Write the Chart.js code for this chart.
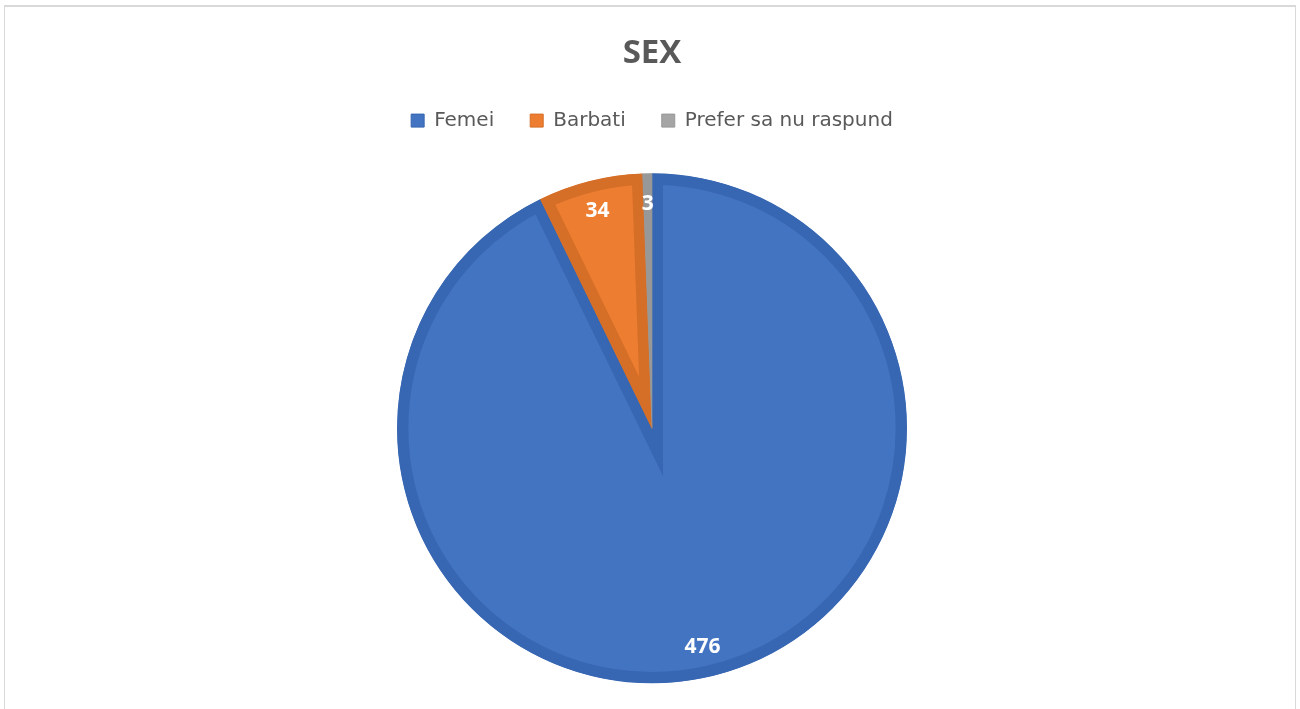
<!DOCTYPE html>
<html>
<head>
<meta charset="utf-8">
<script src="https://cdn.jsdelivr.net/npm/chart.js@4.4.1/dist/chart.umd.min.js"></script>
<style>
  html, body { margin: 0; padding: 0; background: #ffffff; }
  #wrap { position: relative; width: 1300px; height: 709px; overflow: hidden; }
  #frame { position: absolute; left: 4px; top: 5px; width: 1292px; height: 740px; border: 1px solid #d9d9d9; border-top-width: 2px; box-sizing: border-box; pointer-events: none; }
  canvas { position: absolute; left: 0; top: 0; }
</style>
</head>
<body>
<div id="wrap">
  <canvas id="c" width="1300" height="735"></canvas>
  <div id="frame"></div>
</div>
<script>
const titleText = "SEX";
const categories = ["Femei", "Barbati", "Prefer sa nu raspund"];
const values = [476, 34, 3];
const fillColors = ["#4374C1", "#ED7D31", "#A5A5A5"];
const borderColors = ["#3766B2", "#D56F27", "#989898"];

const valueLabels = {
  id: 'valueLabels',
  afterDatasetsDraw(chart) {
    const ctx = chart.ctx;
    const meta = chart.getDatasetMeta(0);
    ctx.save();
    ctx.fillStyle = '#ffffff';
    ctx.font = 'bold 21px "Open Sans"';
    ctx.textAlign = 'center';
    ctx.textBaseline = 'middle';
    meta.data.forEach((arc, i) => {
      const p = arc.getProps(['x', 'y', 'startAngle', 'endAngle', 'outerRadius'], true);
      const mid = (p.startAngle + p.endAngle) / 2;
      const r = p.outerRadius * 0.88;
      ctx.fillText(String(values[i]), p.x + Math.cos(mid) * r, p.y + Math.sin(mid) * r);
    });
    ctx.restore();
  }
};

new Chart(document.getElementById('c'), {
  type: 'pie',
  data: {
    labels: categories,
    datasets: [{
      data: values,
      backgroundColor: fillColors,
      borderColor: borderColors,
      borderWidth: 11,
      borderAlign: 'inner',
      borderJoinStyle: 'miter'
    }]
  },
  options: {
    responsive: false,
    animation: false,
    radius: 255,
    layout: { padding: { left: 4, right: 0, top: 0, bottom: 19 } },
    plugins: {
      tooltip: { enabled: false },
      title: {
        display: true,
        text: titleText,
        color: '#595959',
        font: { family: '"Open Sans"', size: 33, weight: 'bold', lineHeight: 1.2 },
        padding: { top: 34, bottom: 1 }
      },
      legend: {
        display: true,
        position: 'top',
        labels: {
          color: '#595959',
          font: { family: '"DejaVu Sans"', size: 20 },
          boxWidth: 13,
          boxHeight: 13,
          padding: 36,
          generateLabels(chart) {
            return categories.map((c, i) => ({
              text: c,
              fillStyle: fillColors[i],
              strokeStyle: borderColors[i],
              lineWidth: 1,
              fontColor: '#595959',
              hidden: false,
              index: i
            }));
          }
        }
      }
    }
  },
  plugins: [valueLabels]
});
</script>
</body>
</html>
